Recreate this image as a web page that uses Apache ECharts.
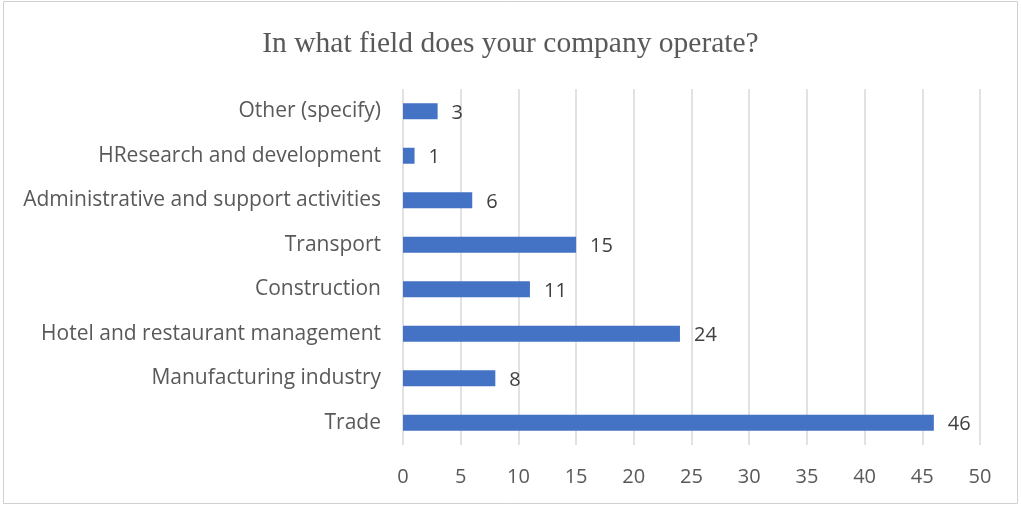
<!DOCTYPE html>
<html>
<head>
<meta charset="utf-8">
<script src="https://cdn.jsdelivr.net/npm/echarts@6/dist/echarts.min.js"></script>
<style>
  html, body { margin: 0; padding: 0; background: #ffffff; }
  #chart { width: 1021px; height: 506px; }
</style>
</head>
<body>
<div id="chart"></div>
<script>
// Survey answers, listed bottom to top as drawn on the category axis
const categories = [
  'Trade',
  'Manufacturing industry',
  'Hotel and restaurant management',
  'Construction',
  'Transport',
  'Administrative and support activities',
  'HResearch and development',
  'Other (specify)'
];
const responses = [46, 8, 24, 11, 15, 6, 1, 3];
const xTicks = { min: 0, max: 50, interval: 5 };

const labelFont = '"Open Sans", "Noto Sans", sans-serif';
const chart = echarts.init(document.getElementById('chart'), null, { renderer: 'canvas' });

chart.setOption({
  backgroundColor: '#ffffff',
  animation: false,
  graphic: [{
    type: 'rect',
    shape: { x: 3.5, y: 1.5, width: 1014, height: 502 },
    style: { fill: 'none', stroke: '#d0d0d0', lineWidth: 1 },
    silent: true
  }],
  title: {
    text: 'In what field does your company operate?',
    left: 'center',
    top: 24,
    textStyle: {
      fontFamily: '"Liberation Serif", "DejaVu Serif", serif',
      fontSize: 29.5,
      fontWeight: 'normal',
      color: '#595959'
    }
  },
  grid: { left: 403, right: 41, top: 89, bottom: 61, containLabel: false },
  xAxis: {
    type: 'value',
    min: xTicks.min,
    max: xTicks.max,
    interval: xTicks.interval,
    axisLine: { show: false },
    axisTick: { show: false },
    axisLabel: {
      margin: 22,
      fontFamily: labelFont,
      fontSize: 20,
      color: '#595959'
    },
    splitLine: { show: true, lineStyle: { color: '#d9d9d9', width: 1.5 } }
  },
  yAxis: {
    type: 'category',
    data: categories,
    axisLine: { show: false },
    axisTick: { show: false },
    axisLabel: {
      margin: 22,
      fontFamily: labelFont,
      fontSize: 21,
      color: '#595959'
    }
  },
  series: [{
    type: 'bar',
    data: responses,
    barWidth: 16,
    itemStyle: { color: '#4472c4' },
    label: {
      show: true,
      position: 'right',
      distance: 14,
      offset: [0, 2],
      fontFamily: labelFont,
      fontSize: 20,
      color: '#404040'
    }
  }]
});
</script>
</body>
</html>
